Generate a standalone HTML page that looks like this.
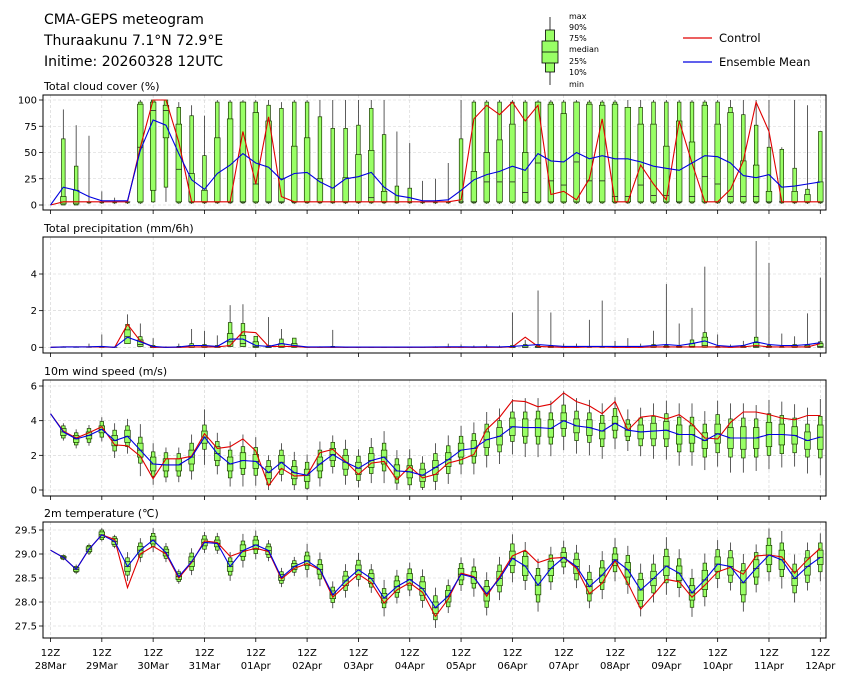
<!DOCTYPE html>
<html><head><meta charset="utf-8"><style>
html,body{margin:0;padding:0;background:#fff;}
svg{display:block;font-family:"DejaVu Sans","Liberation Sans",sans-serif;}
</style></head><body>
<svg id="chart" width="848" height="681" viewBox="0 0 848 681" xmlns="http://www.w3.org/2000/svg">
<g>
<text x="44" y="24" font-size="14" fill="#000">CMA-GEPS meteogram</text>
<text x="44" y="45" font-size="14" fill="#000">Thuraakunu 7.1°N 72.9°E</text>
<text x="44" y="66" font-size="14" fill="#000">Initime: 20260328 12UTC</text>
</g>
<g>
<line x1="550" y1="17" x2="550" y2="85" stroke="#000" stroke-width="0.8"/>
<rect x="545.5" y="30" width="9" height="42" fill="#99ff66" stroke="#000" stroke-width="0.8"/>
<rect x="542" y="41" width="16" height="22" fill="#99ff66" stroke="#000" stroke-width="0.8"/>
<line x1="542" y1="52" x2="558" y2="52" stroke="#000" stroke-width="0.8"/>
<g font-size="8" fill="#000">
<text x="569" y="19">max</text><text x="569" y="30">90%</text><text x="569" y="41">75%</text>
<text x="569" y="52">median</text><text x="569" y="64">25%</text><text x="569" y="75">10%</text><text x="569" y="87">min</text>
</g>
</g>
<g>
<line x1="683" y1="38" x2="712" y2="38" stroke="#e00000" stroke-width="1.2"/>
<text x="719" y="42" font-size="11.5">Control</text>
<line x1="683" y1="62" x2="712" y2="62" stroke="#0000e0" stroke-width="1.2"/>
<text x="719" y="66" font-size="11.5">Ensemble Mean</text>
</g>
<g id="panels"></g>
</svg>
<script>
// ---- time axis ----
const dayLabels = ["28Mar","29Mar","30Mar","31Mar","01Apr","02Apr","03Apr","04Apr","05Apr","06Apr","07Apr","08Apr","09Apr","10Apr","11Apr","12Apr"];

// ---- cloud cover (%) ----
const cloudMax = [0,91,76,66,13,7,3,100,100,100,98,95,85,100,100,100,100,100,98,100,100,100,100,100,100,100,100,70,59,23,25,40,100,100,100,100,100,100,100,100,100,100,100,100,100,100,100,100,100,100,100,100,100,100,100,100,100,55,100,95,70];
const cloudP90 = [0,63,37,3,3,3,3,98,100,100,93,85,47,98,98,98,98,95,92,98,98,84,73,73,76,92,67,18,16,3,3,3,63,98,98,98,98,98,98,98,98,98,98,98,98,93,93,98,98,98,98,98,98,93,86,76,55,53,35,15,70];
const cloudP75 = [0,8,14,3,3,3,3,96,98,95,77,30,14,64,82,98,88,80,25,56,64,25,3,26,48,52,13,3,3,3,3,3,3,32,50,62,77,50,98,96,87,98,96,95,96,93,77,77,56,80,60,95,77,88,42,38,13,3,13,10,22];
const cloudMed = [0,3,3,3,3,3,3,55,90,90,34,3,3,3,3,3,20,3,3,3,3,3,3,3,3,7,3,3,3,3,3,3,3,3,22,22,22,12,40,23,19,41,23,23,8,8,19,9,9,3,8,27,20,8,8,8,3,3,3,3,3];
const cloudP25 = [0,1,1,3,3,3,3,3,14,64,3,3,3,3,3,3,3,3,3,3,3,3,3,3,3,3,3,3,3,3,3,3,3,3,3,3,3,3,3,3,3,3,3,3,3,3,3,3,3,3,3,3,3,3,3,3,3,3,3,3,3];
const cloudP10 = [0,0,0,2,2,2,2,2,3,17,2,2,2,2,2,2,2,2,2,2,2,2,2,2,2,2,2,2,2,2,2,2,2,2,2,2,2,2,2,2,2,2,2,2,2,2,2,2,2,2,2,2,2,2,2,2,2,2,2,2,2];
const cloudMin = [0,0,0,1,1,1,1,1,2,3,1,1,1,1,1,1,1,1,1,1,1,1,1,1,1,1,1,1,1,1,1,1,1,1,1,1,1,1,1,1,1,1,1,1,1,1,1,1,1,1,1,1,1,1,1,1,1,1,1,1,1];
const cloudCtrl = [0,3,3,3,3,3,3,55,100,100,60,3,3,3,3,70,20,84,8,3,3,3,3,3,3,3,3,3,3,3,3,3,5,82,95,86,98,80,95,10,13,5,25,82,3,3,38,20,5,80,40,3,3,15,42,98,70,3,3,3,3];
const cloudMean = [0,17,14,8,4,4,4,52,81,76,49,24,15,30,38,49,40,36,24,30,31,22,16,25,27,31,17,9,7,4,4,5,14,24,29,32,37,33,49,42,41,50,44,47,44,44,41,37,35,33,40,47,46,40,28,26,29,17,18,20,22];

// ---- precipitation (mm/6h) ----
const precMax = [0,0.05,0.05,0.2,0.7,0.05,1.8,1.3,0.5,0.05,0.2,1.0,0.9,0.65,2.3,2.35,0.6,1.65,1.0,0.1,0.05,0.05,0.95,0.02,0.02,0.02,0.02,0.02,0.02,0.02,0.05,0.2,0.15,0.1,0.15,0.1,1.9,0.4,3.1,1.9,0.2,0.2,1.5,2.55,0.35,0.5,0.2,0.9,3.45,1.3,2.15,4.4,0.7,0.15,0.35,5.8,4.6,0.75,0.6,1.85,3.8];
const precP90 = [0,0,0,0,0.05,0,1.25,0.58,0.1,0,0.05,0.2,0.15,0.1,1.35,1.3,0.6,0.1,0.45,0.5,0,0,0.05,0,0,0,0,0,0,0,0,0,0,0,0,0,0.1,0.15,0.1,0.1,0,0,0.05,0.05,0,0,0,0.15,0.1,0.1,0.4,0.8,0.05,0,0.1,0.55,0.1,0.05,0.15,0.15,0.3];
const precP75 = [0,0,0,0,0,0,0.95,0.4,0.05,0,0,0.1,0.08,0.05,0.75,0.65,0.3,0.05,0.2,0.2,0,0,0,0,0,0,0,0,0,0,0,0,0,0,0,0,0.05,0.08,0.05,0.05,0,0,0,0,0,0,0,0.08,0.05,0.05,0.2,0.55,0,0,0.05,0.25,0.05,0,0.08,0.08,0.2];
const precMed = [0,0,0,0,0,0,0.58,0.15,0,0,0,0,0,0,0.3,0.2,0.05,0,0.05,0.05,0,0,0,0,0,0,0,0,0,0,0,0,0,0,0,0,0,0,0,0,0,0,0,0,0,0,0,0,0,0,0.05,0.1,0,0,0,0.05,0,0,0,0,0.05];
const precLow = [0,0,0,0,0,0,0.2,0.05,0,0,0,0,0,0,0.05,0.05,0,0,0,0,0,0,0,0,0,0,0,0,0,0,0,0,0,0,0,0,0,0,0,0,0,0,0,0,0,0,0,0,0,0,0,0,0,0,0,0,0,0,0,0,0];
const precCtrl = [0,0.02,0.02,0.02,0.02,0,1.25,0.35,0,0,0,0.02,0.02,0.02,0.1,0.85,0.8,0.05,0.05,0.05,0,0,0,0,0,0,0,0,0,0,0,0,0,0,0,0,0.02,0.55,0.05,0.02,0,0,0.02,0.02,0,0,0,0.02,0.02,0.02,0.02,0.02,0.02,0,0.02,0.1,0.02,0.02,0.02,0.02,0.2];
const precMean = [0,0.02,0.02,0.03,0.05,0,0.55,0.3,0.05,0,0.02,0.1,0.1,0.05,0.45,0.45,0.1,0.05,0.2,0.1,0.02,0.02,0.03,0.01,0.01,0.01,0.01,0.01,0.01,0.01,0.02,0.03,0.03,0.02,0.03,0.02,0.05,0.1,0.15,0.1,0.05,0.05,0.05,0.05,0.05,0.05,0.05,0.1,0.15,0.1,0.2,0.35,0.1,0.05,0.1,0.3,0.15,0.1,0.1,0.15,0.25];

// ---- 10m wind speed (m/s) ----
const windMean = [4.4,3.35,2.95,3.15,3.5,2.85,3.1,2.3,1.5,1.45,1.45,1.9,3.05,2.1,1.5,1.7,1.65,1.0,1.6,1.0,0.85,1.5,2.05,1.6,1.25,1.7,1.9,1.1,1.05,0.85,1.3,1.75,2.3,2.4,2.9,3.1,3.65,3.6,3.6,3.55,4.0,3.7,3.6,3.4,3.85,3.45,3.35,3.4,3.45,3.2,3.2,2.85,3.25,3.0,3.0,3.0,3.2,3.2,3.15,2.85,3.05];
const windCtrl = [4.4,3.4,3.0,3.3,3.65,2.6,2.55,1.95,0.65,1.8,1.8,1.95,3.25,2.4,2.5,2.95,2.25,0.25,1.25,0.8,0.85,2.15,2.35,1.65,0.9,1.55,1.65,0.6,1.35,0.7,0.9,1.55,1.75,2.05,3.5,4.2,5.15,5.1,4.8,4.95,5.6,5.1,4.85,4.4,5.1,3.45,4.2,4.3,4.1,4.35,3.8,3.0,2.95,3.9,4.5,4.5,4.35,4.15,4.05,4.3,4.3];
const windIqrHalf = [0,0.2,0.2,0.2,0.2,0.3,0.35,0.4,0.4,0.35,0.35,0.4,0.35,0.4,0.4,0.45,0.4,0.35,0.4,0.35,0.35,0.4,0.35,0.4,0.35,0.4,0.4,0.35,0.35,0.35,0.4,0.4,0.4,0.45,0.45,0.5,0.5,0.5,0.5,0.5,0.45,0.4,0.45,0.45,0.4,0.35,0.4,0.45,0.5,0.55,0.5,0.45,0.55,0.6,0.65,0.6,0.7,0.6,0.5,0.5,0.7];
const windP90Half = [0,0.35,0.35,0.4,0.45,0.6,0.6,0.75,0.7,0.7,0.65,0.8,0.7,0.7,0.8,0.8,0.8,0.7,0.7,0.7,0.75,0.8,0.7,0.75,0.7,0.75,0.8,0.7,0.75,0.7,0.8,0.8,0.8,0.85,0.9,0.9,0.85,0.9,0.95,0.9,0.9,0.85,0.85,0.9,0.85,0.6,0.8,0.85,0.95,1.0,1.0,0.95,1.1,1.1,1.15,1.1,1.2,1.1,1.0,0.95,1.2];
const windRangeHalf = [0,0.5,0.55,0.6,0.7,1.0,1.0,1.5,1.2,1.0,1.0,1.3,1.6,1.2,1.3,1.5,1.4,1.0,1.1,1.2,1.2,1.3,1.1,1.3,1.1,1.3,1.5,1.2,1.3,1.1,1.4,1.4,1.4,1.5,1.6,1.6,1.6,1.7,1.7,1.6,1.7,1.6,1.6,1.6,1.5,1.2,1.4,1.6,1.7,1.8,1.8,1.7,1.9,2.0,2.0,1.9,2.0,1.9,1.8,1.9,2.2];

// ---- 2m temperature (°C) ----
const tempMean = [29.08,28.93,28.68,29.1,29.4,29.26,28.74,29.08,29.29,29.03,28.53,28.84,29.24,29.22,28.74,29.07,29.19,29.07,28.51,28.74,28.86,28.68,28.15,28.44,28.67,28.49,28.08,28.32,28.47,28.28,27.88,28.12,28.58,28.51,28.17,28.49,28.91,28.75,28.35,28.7,28.93,28.74,28.32,28.56,28.88,28.67,28.25,28.49,28.75,28.6,28.19,28.46,28.79,28.74,28.4,28.7,28.98,28.88,28.49,28.74,28.93];
const tempCtrl = [29.08,28.93,28.68,29.1,29.4,29.3,28.3,29.0,29.16,29.0,28.5,28.82,29.27,29.24,28.95,29.05,29.12,29.05,28.48,28.7,28.8,28.67,28.1,28.35,28.58,28.4,27.98,28.25,28.4,28.2,27.7,28.06,28.6,28.53,28.12,28.53,28.96,29.08,28.82,28.91,28.93,28.7,28.17,28.39,28.86,28.39,27.85,28.15,28.47,28.42,28.1,28.35,28.63,28.72,28.58,28.96,28.98,28.94,28.6,28.88,29.12];
const tempIqrHalf = [0,0.02,0.04,0.05,0.06,0.06,0.1,0.08,0.08,0.07,0.06,0.1,0.07,0.07,0.1,0.12,0.1,0.08,0.06,0.06,0.1,0.1,0.08,0.1,0.1,0.1,0.1,0.12,0.12,0.14,0.12,0.12,0.12,0.12,0.15,0.15,0.15,0.2,0.2,0.15,0.1,0.15,0.15,0.15,0.12,0.15,0.22,0.15,0.2,0.15,0.15,0.2,0.15,0.18,0.25,0.18,0.2,0.2,0.15,0.18,0.15];
const tempP90Half = [0,0.04,0.06,0.08,0.1,0.1,0.18,0.15,0.14,0.12,0.1,0.18,0.14,0.14,0.18,0.2,0.18,0.14,0.12,0.12,0.18,0.2,0.16,0.2,0.2,0.18,0.2,0.22,0.22,0.25,0.25,0.22,0.22,0.22,0.28,0.28,0.3,0.3,0.35,0.28,0.2,0.28,0.3,0.3,0.25,0.3,0.35,0.3,0.35,0.3,0.3,0.35,0.3,0.33,0.4,0.33,0.35,0.35,0.3,0.33,0.3];
const tempRangeHalf = [0,0.06,0.1,0.12,0.14,0.14,0.3,0.25,0.25,0.2,0.15,0.28,0.22,0.22,0.3,0.35,0.3,0.22,0.2,0.2,0.35,0.35,0.28,0.35,0.35,0.3,0.38,0.35,0.35,0.4,0.42,0.35,0.35,0.4,0.45,0.45,0.5,0.5,0.55,0.45,0.35,0.45,0.45,0.5,0.45,0.5,0.55,0.5,0.6,0.5,0.5,0.55,0.5,0.5,0.6,0.5,0.55,0.6,0.5,0.5,0.5];

// ---- y tick labels ----
const cloudTicks = [0,25,50,75,100];
const precTicks = [0,2,4];
const windTicks = [0,2,4,6];
const tempTicks = [27.5,28.0,28.5,29.0,29.5];

const NS = "http://www.w3.org/2000/svg";
const root = document.getElementById('panels');
const X0 = 43, X1 = 826;
function xScale(i){ return 50.5 + i * 12.83; }
function mk(tag, attrs, parent){ const e = document.createElementNS(NS, tag); for (const k in attrs) e.setAttribute(k, attrs[k]); parent.appendChild(e); return e; }

function panel(cfg){
  const g = mk('g', {}, root);
  
  
  const y = v => cfg.y0 + (v - cfg.v0) * (cfg.y1 - cfg.y0) / (cfg.v1 - cfg.v0);
  // grid
  for (let d = 0; d < dayLabels.length; d++) {
    const x = xScale(d * 4);
    const gl = mk('line', {x1:x, x2:x, y1:cfg.top, y2:cfg.bot, stroke:'#d0d0d0', 'stroke-width':0.6, 'stroke-dasharray':'3,2'}, g);
    
    
    const tk = mk('line', {x1:x, x2:x, y1:cfg.bot, y2:cfg.bot + 4, stroke:'#000', 'stroke-width':0.8}, g);
    
    
  }
  cfg.ticks.forEach(t => {
    const yy = y(t);
    const gl = mk('line', {x1:X0, x2:X1, y1:yy, y2:yy, stroke:'#d0d0d0', 'stroke-width':0.6, 'stroke-dasharray':'3,2'}, g);
    
    
    mk('line', {x1:X0 - 4, x2:X0, y1:yy, y2:yy, stroke:'#000', 'stroke-width':0.8}, g);
    const tl = mk('text', {x:X0 - 6, y:yy + 3.5, 'font-size':10, 'text-anchor':'end'}, g);
    tl.textContent = cfg.fmt(t);
    
    
  });
  // boxes
  const n = cfg.med.length;
  for (let i = 0; i < n; i++) {
    const x = xScale(i);
    const bg = mk('g', {}, g);
    
    
    const mn = cfg.min[i], mx = cfg.max[i];
    if (mx - mn > 0) mk('line', {x1:x, x2:x, y1:y(mn), y2:y(mx), stroke:'#333', 'stroke-width':0.8}, bg);
    const a = y(cfg.p90[i]), b = y(cfg.p10[i]);
    if (Math.abs(b - a) > 0.3) mk('rect', {x:x - 1.8, y:a, width:3.6, height:b - a, fill:'#99ff66', stroke:'#1a3a00', 'stroke-width':0.7}, bg);
    const c = y(cfg.p75[i]), d = y(cfg.p25[i]);
    if (Math.abs(d - c) > 0.3) mk('rect', {x:x - 2.8, y:c, width:5.6, height:d - c, fill:'#99ff66', stroke:'#1a3a00', 'stroke-width':0.7}, bg);
    if (mx - mn > 0) mk('line', {x1:x - 2.8, x2:x + 2.8, y1:y(cfg.med[i]), y2:y(cfg.med[i]), stroke:'#222', 'stroke-width':0.8}, bg);
  }
  const path = arr => arr.map((v, i) => (i ? 'L' : 'M') + xScale(i).toFixed(1) + ',' + y(v).toFixed(1)).join('');
  const cl = mk('path', {d:path(cfg.ctrl), fill:'none', stroke:'#e00000', 'stroke-width':1.1}, g);
  
  
  const ml = mk('path', {d:path(cfg.mean), fill:'none', stroke:'#0000e0', 'stroke-width':1.1}, g);
  
  
  const fr = mk('rect', {x:X0, y:cfg.top, width:X1 - X0, height:cfg.bot - cfg.top, fill:'none', stroke:'#000', 'stroke-width':1}, g);
  
  
  const tt = mk('text', {x:44, y:cfg.top - 5, 'font-size':11}, g);
  tt.textContent = cfg.title;
  
  
}

function sub(a, b){ return a.map((v, i) => Math.max(0, v - b[i])); }
function add(a, b){ return a.map((v, i) => v + b[i]); }

panel({name:'cloud-cover-panel', title:'Total cloud cover (%)', top:95, bot:210, v0:0, v1:100, y0:205, y1:100, ticks:cloudTicks, fmt:t => String(t),
  med:cloudMed, p25:cloudP25, p75:cloudP75, p10:cloudP10, p90:cloudP90, min:cloudMin, max:cloudMax, ctrl:cloudCtrl, mean:cloudMean});
panel({name:'precipitation-panel', title:'Total precipitation (mm/6h)', top:237, bot:353, v0:0, v1:4, y0:347.3, y1:274, ticks:precTicks, fmt:t => String(t),
  med:precMed, p25:precLow, p75:precP75, p10:precLow, p90:precP90, min:precLow, max:precMax, ctrl:precCtrl, mean:precMean});
panel({name:'wind-speed-panel', title:'10m wind speed (m/s)', top:380, bot:496, v0:0, v1:6, y0:490, y1:386, ticks:windTicks, fmt:t => String(t),
  med:windMean, p25:sub(windMean, windIqrHalf), p75:add(windMean, windIqrHalf), p10:sub(windMean, windP90Half), p90:add(windMean, windP90Half), min:sub(windMean, windRangeHalf), max:add(windMean, windRangeHalf), ctrl:windCtrl, mean:windMean});
panel({name:'temperature-panel', title:'2m temperature (\u2103)', top:522, bot:638, v0:27.5, v1:29.5, y0:626, y1:530, ticks:tempTicks, fmt:t => t.toFixed(1),
  med:tempMean, p25:tempMean.map((v,i) => v - tempIqrHalf[i]), p75:add(tempMean, tempIqrHalf), p10:tempMean.map((v,i) => v - tempP90Half[i]), p90:add(tempMean, tempP90Half), min:tempMean.map((v,i) => v - tempRangeHalf[i]), max:add(tempMean, tempRangeHalf), ctrl:tempCtrl, mean:tempMean});

// x labels
dayLabels.forEach((lab, d) => {
  const x = xScale(d * 4);
  const t1 = mk('text', {x:x, y:656, 'font-size':10, 'text-anchor':'middle'}, root);
  t1.textContent = '12Z';
  
  
  const t2 = mk('text', {x:x, y:669, 'font-size':10, 'text-anchor':'middle'}, root);
  t2.textContent = lab;
  
  
});
</script>
</body></html>
